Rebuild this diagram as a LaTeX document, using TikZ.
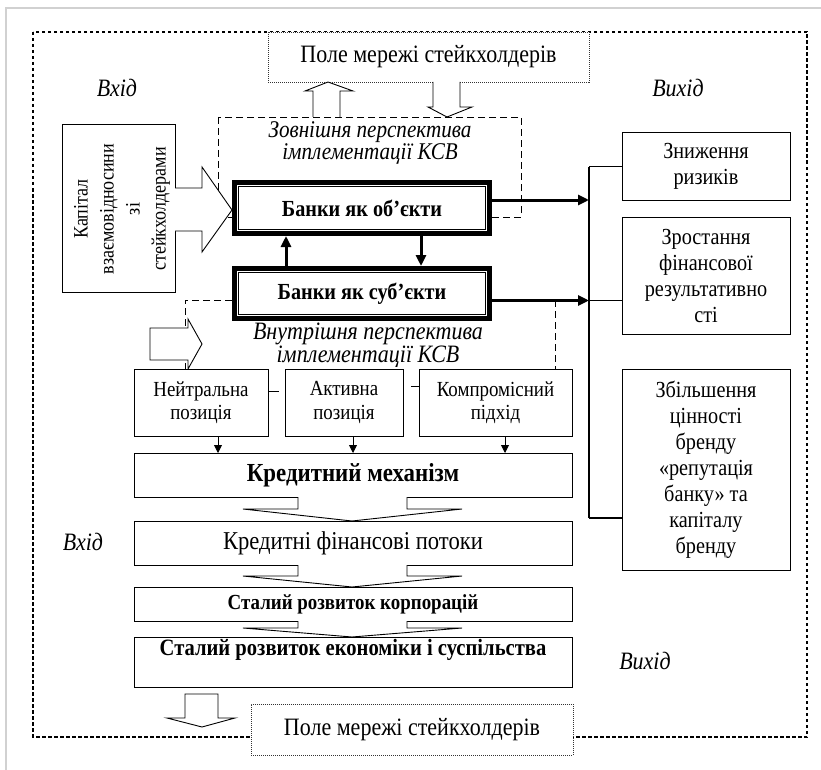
\documentclass[tikz,border=0pt]{standalone}
\usepackage{fontspec}
\setmainfont{Liberation Serif}[FakeStretch=0.88]
\usetikzlibrary{arrows.meta}
\newcommand\fsBig{\fontsize{25}{29}\selectfont}
\newcommand\fsMid{\fontsize{23}{26}\selectfont}
\newcommand\fsBold{\fontsize{23}{26}\selectfont\bfseries}
\newcommand\fsPos{\fontsize{21.5}{23.5}\selectfont}
\newcommand\fsIt{\fontsize{25}{17}\selectfont\itshape}
\begin{document}
\begin{tikzpicture}[x=1pt,y=-1pt,
  every node/.style={inner sep=0pt, outer sep=0pt},
  box/.style={draw, line width=1pt, fill=white, align=center},
  polebox/.style={draw=black!80, line width=0.9pt, dash pattern=on 1pt off 1pt, fill=white, align=center, font=\fsBig},
  outerdash/.style={line width=1.2pt, dash pattern=on 3.5pt off 2.5pt},
  persp/.style={line width=0.9pt, dash pattern=on 7pt off 4pt},
  hollow/.style={draw, line width=0.9pt, fill=white, line join=miter},
  thickarr/.style={line width=3pt, -{Triangle[length=11pt,width=10pt]}},
  smallarr/.style={line width=0.9pt, -{Triangle[length=8pt,width=8pt]}},
  thinline/.style={line width=1pt},
  itlabel/.style={font=\fsIt, align=center},
  persptext/.style={align=center, font=\fontsize{24}{20}\selectfont\itshape}]
\useasboundingbox (0,0) rectangle (821,770);

% image frame
\draw[black!18, line width=1.5pt] (6,770) -- (6,8) -- (821,8);

% outer dashed frame
\draw[outerdash] (33,32) rectangle (807,737);

% stakeholder fields
\node[polebox, minimum width=321pt, minimum height=50pt] (poleT) at (428.5,57) {Поле мережі стейкхолдерів};
\node[polebox, minimum width=322pt, minimum height=51pt] (poleB) at (412,729.5) {Поле мережі стейкхолдерів};

% perspective dashed frames
\draw[persp] (218,117) rectangle (521,217);
\coordinate (inTL) at (185,300);
\coordinate (inBL) at (185,369);
\coordinate (inTR) at (555,300);
\coordinate (inBR) at (555,369);

% hollow arrows top
\draw[hollow] (313,117) -- (313,91) -- (305,91) -- (328,82) -- (353,91) -- (340,91) -- (340,117);
\draw[hollow] (433,82) -- (433,107) -- (428,107) -- (447,117) -- (472,107) -- (460,107) -- (460,82);

\node[persptext] (extT) at (370,142.5) {Зовнішня перспектива\\імплементації КСВ};

% capital box
\node[box, minimum width=113pt, minimum height=167pt] (kap) at (118.5,208.5) {};
\node[rotate=90, align=center, font=\fontsize{20.5}{26}\selectfont] (kapT) at (122,209) {Капітал\\взаємовідносини\\зі\\стейкхолдерами};
\draw[hollow] (175,188) -- (202,188) -- (202,167) -- (232,210) -- (202,252) -- (202,231) -- (175,231);

% bank boxes
\node[fill=white, minimum width=260pt, minimum height=56pt, font=\fsBold] (b1) at (362,208) {Банки як об’єкти};
\node[fill=white, minimum width=260pt, minimum height=55pt, font=\fsBold] (b2) at (362,293.5) {Банки як суб’єкти};
\foreach \b in {b1,b2}{
  \draw[line width=5pt] ([shift={(2.5pt,-2.5pt)}]\b.north west) rectangle ([shift={(-2.5pt,2.5pt)}]\b.south east);
  \draw[line width=1.2pt] ([shift={(6.5pt,-6.5pt)}]\b.north west) rectangle ([shift={(-6.5pt,6.5pt)}]\b.south east);
}

% internal perspective dashed lines
\draw[persp] (b2.west |- inTL) -- (inTL) -- (inBL);
\draw[persp] (inTR) -- (inBR);
\draw[hollow] (150,328) -- (188,328) -- (188,319) -- (202,344) -- (188,369) -- (188,360) -- (150,360) -- cycle;
\node[persptext, font=\fontsize{25}{20}\selectfont\itshape] (intT) at (368,345) {Внутрішня перспектива\\імплементації КСВ};

% arrows between bank boxes
\draw[thickarr] (b2.north -| 286,0) -- (b1.south -| 286,0);
\draw[thickarr] (b1.south -| 421,0) -- (b2.north -| 421,0);

% right side
\coordinate (vT) at (589,167);
\coordinate (vA) at (589,200);
\coordinate (vB) at (589,300.5);
\coordinate (vE) at (589,518);
\draw[line width=2pt] (vT) -- (vE);
\draw[thickarr] ([yshift=8pt]b1.east) -- (vA);
\draw[thickarr] ([yshift=-7pt]b2.east) -- (vB);

\node[box, minimum width=168pt, minimum height=67pt, font=\fsMid] (r1) at (706,166.5) {Зниження\\ризиків};
\node[box, minimum width=168pt, minimum height=117pt, font=\fsMid] (r2) at (706,275.5) {Зростання\\фінансової\\результативно\\сті};
\node[box, minimum width=168pt, minimum height=201pt, font=\fsMid] (r3) at (706,469.5) {Збільшення\\цінності\\бренду\\«репутація\\банку» та\\капіталу\\бренду};
\draw[thinline] (vT) -- (vT -| r1.west);
\draw[thinline] (vB) -- (vB -| r2.west);
\draw[line width=1.5pt] (vE) -- (vE -| r3.west);

% position boxes
\node[box, minimum width=134pt, minimum height=67pt, font=\fsPos] (p1) at (201,402.5) {Нейтральна\\позиція};
\node[box, minimum width=118pt, minimum height=67pt, font=\fsPos] (p2) at (344,402.5) {Активна\\позиція};
\node[box, minimum width=153pt, minimum height=67pt, font=\fsPos] (p3) at (495.5,402.5) {Компромісний\\підхід};
\draw[line width=0.9pt, dash pattern=on 11pt off 20pt] ([yshift=11pt]p1.east) -- ([yshift=11pt]p2.west);
\draw[line width=0.9pt, dash pattern=on 8pt off 20pt] ([yshift=16pt]p3.west) -- ([yshift=16pt]p2.east);

% stack
\node[box, minimum width=438pt, minimum height=44pt, font=\fontsize{26}{30}\selectfont\bfseries] (k1) at (353,475) {Кредитний механізм};
\draw[smallarr] (p1.south -| 218,0) -- (k1.north -| 218,0);
\draw[smallarr] (p2.south -| 353,0) -- (k1.north -| 353,0);
\draw[smallarr] (p3.south -| 505,0) -- (k1.north -| 505,0);

\fill[white] (299,495) rectangle (406,509);
\draw[hollow] (298,497) -- (298,509) -- (243,509) -- (352,521) -- (462,509) -- (407,509) -- (407,497);
\node[box, minimum width=438pt, minimum height=44pt, font=\fontsize{25.7}{30}\selectfont] (k2) at (353,543) {Кредитні фінансові потоки};

\fill[white] (299,563) rectangle (406,576);
\draw[hollow] (298,565) -- (298,576) -- (243,576) -- (352,587) -- (462,576) -- (407,576) -- (407,565);
\node[box, minimum width=438pt, minimum height=34pt, font=\fontsize{21.5}{24}\selectfont\bfseries] (k3) at (353,604) {Сталий розвиток корпорацій};

\fill[white] (299,619) rectangle (406,628);
\draw[hollow] (298,621) -- (298,628) -- (243,628) -- (352,637) -- (462,628) -- (407,628) -- (407,621);
\node[box, minimum width=438pt, minimum height=50pt] (k4) at (353,662) {};
\node[font=\fontsize{23.4}{26}\selectfont\bfseries] (k4T) at (353,650) {Сталий розвиток економіки і суспільства};

% bottom hollow arrow
\draw[hollow] (185,694) -- (185,718) -- (167,718) -- (202,727) -- (235,718) -- (218,718) -- (218,694) -- cycle;

% input / output labels
\node[itlabel] (in1) at (117,88) {Вхід};
\node[itlabel] (out1) at (678,88) {Вихід};
\node[itlabel] (in2) at (83,542) {Вхід};
\node[itlabel] (out2) at (645,661) {Вихід};
\end{tikzpicture}
\end{document}
